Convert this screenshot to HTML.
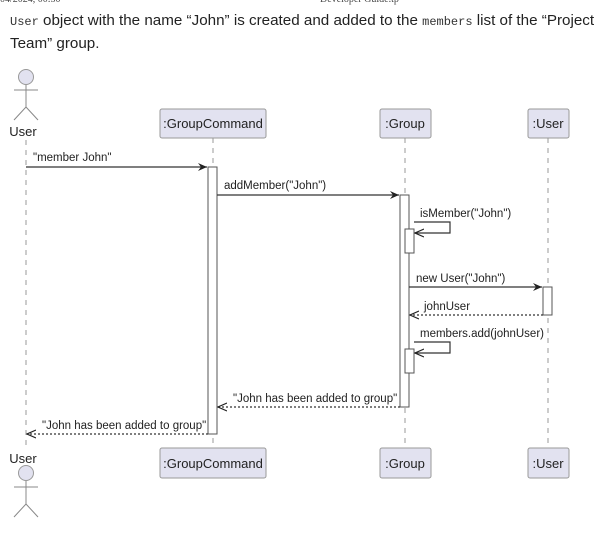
<!DOCTYPE html><html><head><style>body{margin:0;background:#fff;width:606px;height:540px;overflow:hidden;font-family:"Liberation Sans",sans-serif}
.t{position:absolute;left:10px;font-size:15.2px;color:#222;white-space:nowrap}
code{font-family:"Liberation Mono",monospace;font-size:12px;color:#333}
</style></head><body>
<div style="position:absolute;top:-6px;left:0;font-size:10px;color:#444;font-family:'Liberation Serif',serif">04/2024, 00:50</div>
<div style="position:absolute;top:-6px;left:320px;font-size:10px;color:#444;font-family:'Liberation Serif',serif">Developer Guide.tp</div>
<div class="t" style="top:12px"> <code>User</code> object with the name “John” is created and added to the <code>members</code> list of the “Project</div>
<div class="t" style="top:35px">Team” group.</div>
<svg width="606" height="540" style="position:absolute;top:0;left:0" font-family="Liberation Sans, sans-serif">
<defs><marker id="a" markerWidth="10" markerHeight="10" refX="9" refY="5" orient="auto" markerUnits="userSpaceOnUse"><path d="M0,1 L9,5 L0,9 L3,5Z" fill="#222"/></marker>
<marker id="o" markerWidth="10" markerHeight="10" refX="9" refY="5" orient="auto" markerUnits="userSpaceOnUse"><path d="M0,1 L9,5 L0,9" fill="none" stroke="#222" stroke-width="1.2"/></marker></defs>
<g stroke="#999" stroke-dasharray="5,5" stroke-width="1">
<line x1="26" y1="140" x2="26" y2="448"/><line x1="213" y1="138" x2="213" y2="448"/><line x1="405" y1="138" x2="405" y2="448"/><line x1="548" y1="138" x2="548" y2="448"/></g>
<g fill="#e2e2f0" stroke="#999">
<rect x="160" y="109" width="106" height="29" rx="2"/><rect x="380" y="109" width="51" height="29" rx="2"/><rect x="528" y="109" width="41" height="29" rx="2"/>
<rect x="160" y="448" width="106" height="30" rx="2"/><rect x="380" y="448" width="51" height="30" rx="2"/><rect x="528" y="448" width="41" height="30" rx="2"/>
<circle cx="26" cy="77" r="7.5"/><circle cx="26" cy="473" r="7.5"/></g>
<g stroke="#888" fill="none"><path d="M26 85V107M14 90H38M14 120L26 107L38 120"/><path d="M26 481V504M14 487H38M14 517L26 504L38 517"/></g>
<g font-size="13" fill="#222" text-anchor="middle"><text x="213" y="128">:GroupCommand</text><text x="405" y="128">:Group</text><text x="548" y="128">:User</text>
<text x="213" y="468">:GroupCommand</text><text x="405" y="468">:Group</text><text x="548" y="468">:User</text>
<text x="23" y="136">User</text><text x="23" y="463">User</text></g>
<g fill="#fff" stroke="#555"><rect x="208" y="167" width="9" height="267"/><rect x="400" y="195" width="9" height="212"/><rect x="405" y="229" width="9" height="24"/><rect x="543" y="287" width="9" height="28"/><rect x="405" y="349" width="9" height="24"/></g>
<g stroke="#333" stroke-width="1.2" fill="none">
<line x1="26" y1="167" x2="207" y2="167" marker-end="url(#a)"/>
<line x1="217" y1="195" x2="399" y2="195" marker-end="url(#a)"/>
<path d="M414 222H450V233H415" marker-end="url(#o)"/>
<line x1="409" y1="287" x2="542" y2="287" marker-end="url(#a)"/>
<line x1="543" y1="315" x2="410" y2="315" stroke-dasharray="2,2" marker-end="url(#o)"/>
<path d="M414 342H450V353H415" marker-end="url(#o)"/>
<line x1="400" y1="407" x2="218" y2="407" stroke-dasharray="2,2" marker-end="url(#o)"/>
<line x1="208" y1="434" x2="27" y2="434" stroke-dasharray="2,2" marker-end="url(#o)"/></g>
<g font-size="11.5" fill="#222"><text x="33" y="161">"member John"</text><text x="224" y="189">addMember("John")</text>
<text x="420" y="217">isMember("John")</text><text x="416" y="282">new User("John")</text><text x="424" y="310">johnUser</text>
<text x="420" y="337">members.add(johnUser)</text>
<text x="233" y="402">"John has been added to group"</text><text x="42" y="429">"John has been added to group"</text></g>
</svg></body></html>
